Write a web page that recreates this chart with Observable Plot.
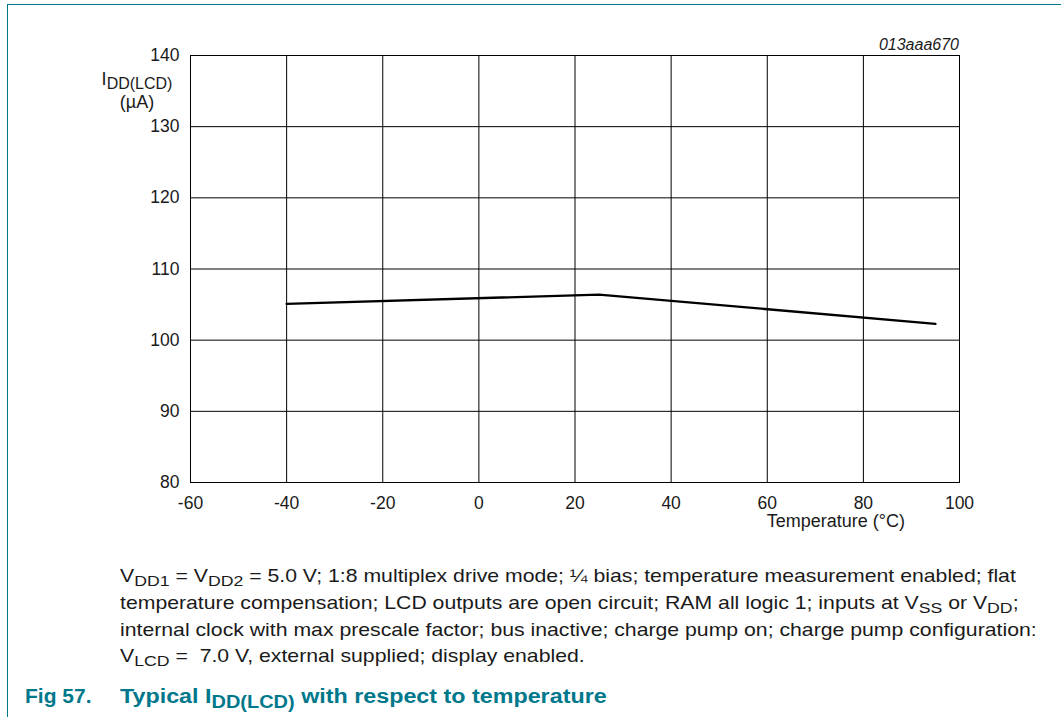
<!DOCTYPE html>
<html>
<head>
<meta charset="utf-8">
<script src="https://cdn.jsdelivr.net/npm/d3@7"></script>
<script src="https://cdn.jsdelivr.net/npm/@observablehq/plot@0.6"></script>
<style>
  html, body { margin: 0; padding: 0; background: #fff; }
  #wrap { position: relative; width: 1061px; height: 717px; overflow: hidden; }
  #frame { position: absolute; left: 7px; top: 4px; right: -2px; bottom: -2px;
           border-top: 1.5px solid #00788c; border-left: 1.5px solid #00788c; }
  #chart { position: absolute; left: 0; top: 0; }
</style>
</head>
<body>
<div id="wrap"><div id="frame"></div><div id="chart"></div></div>
<script>
// Data
const temperature = [-40, 25, 95];
const current = [105.1, 106.4, 102.3];
const xTicks = [-60, -40, -20, 0, 20, 40, 60, 80, 100];
const yTicks = [80, 90, 100, 110, 120, 130, 140];
const figId = "013aaa670";
const xLabel = "Temperature (°C)";
const captionLines = [
  [["V"], ["DD1", 1], [" = V"], ["DD2", 1], [" = 5.0 V; 1:8 multiplex drive mode; ¼ bias; temperature measurement enabled; flat"]],
  [["temperature compensation; LCD outputs are open circuit; RAM all logic 1; inputs at V"], ["SS", 1], [" or V"], ["DD", 1], [";"]],
  [["internal clock with max prescale factor; bus inactive; charge pump on; charge pump configuration:"]],
  [["V"], ["LCD", 1], [" =  7.0 V, external supplied; display enabled."]]
];
const titleNum = "Fig 57.";
const titleParts = [["Typical I"], ["DD(LCD)", 1], [" with respect to temperature"]];

const data = temperature.map((t, i) => ({t, v: current[i]}));

const W = 1061, H = 717;
const FONT = "'Liberation Sans', Arial, sans-serif";
const chart = Plot.plot({
  width: W,
  height: H,
  marginLeft: 190,
  marginRight: W - 959,
  marginTop: 55,
  marginBottom: H - 482,
  style: {fontFamily: FONT, fontSize: "17.5px", color: "#000", background: "transparent"},
  x: {domain: [-60, 100]},
  y: {domain: [80, 140]},
  marks: [
    Plot.gridX(xTicks, {stroke: "#000", strokeOpacity: 1, strokeWidth: 1}),
    Plot.gridY(yTicks, {stroke: "#000", strokeOpacity: 1, strokeWidth: 1}),
    Plot.frame({stroke: "#000", strokeWidth: 1}),
    Plot.axisX(xTicks, {tickSize: 0, tickPadding: 14, label: null, fontSize: 17.5, tickFormat: d => String(d), fill: "#1a1a1a"}),
    Plot.axisY(yTicks, {tickSize: 0, tickPadding: 11, label: null, fontSize: 17.5, tickFormat: d => String(d), fill: "#1a1a1a"}),
    Plot.line(data, {x: "t", y: "v", stroke: "#000", strokeWidth: 2.3})
  ]
});
document.getElementById("chart").appendChild(chart);

const svg = d3.select(chart);
function rich(x, y, parts, opts) {
  const g = svg.append("g").attr("transform", `translate(${x},${y}) scale(${opts.sx || 1},1)`);
  const t = g.append("text")
    .attr("x", 0).attr("y", 0)
    .attr("fill", opts.fill || "#1a1a1a")
    .attr("font-family", FONT)
    .attr("font-size", opts.size)
    .attr("font-weight", opts.weight || "normal")
    .attr("font-style", opts.style || "normal")
    .attr("text-anchor", opts.anchor || "start")
    .style("white-space", "pre");
  let down = false;
  for (const [s, sub] of parts) {
    const ts = t.append("tspan").text(s);
    if (sub && !down) { ts.attr("dy", opts.subDy).attr("font-size", opts.subSize); down = true; }
    else if (!sub && down) { ts.attr("dy", -opts.subDy); down = false; }
  }
  return t;
}

// figure id
rich(959, 50, [[figId]], {size: 16, style: "italic", anchor: "end"});
// y label
rich(137, 85, [["I"], ["DD(LCD)", 1]], {size: 18, subSize: 16, subDy: 4, anchor: "middle"});
rich(137, 108, [["(µA)"]], {size: 18, anchor: "middle"});
// x label
rich(905, 527, [[xLabel]], {size: 18, anchor: "end"});
// caption
const baselines = [582, 609, 636, 662];
captionLines.forEach((ln, i) => rich(120, baselines[i], ln, {size: 18, subSize: 15, subDy: 4, sx: 1.18}));
// title
rich(25, 703, [[titleNum]], {size: 21, weight: "bold", fill: "#00788c"});
rich(120, 703, titleParts, {size: 21, weight: "bold", fill: "#00788c", subSize: 18, subDy: 5, sx: 1.11});
</script>
</body>
</html>
